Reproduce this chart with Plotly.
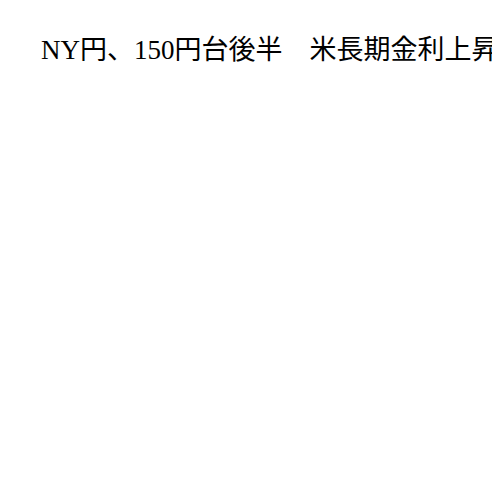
import plotly.graph_objects as go

# タイトルだけのチャート (データ系列なし)
title_text = "NY円、150円台後半　米長期金利上昇で"

fig = go.Figure()

fig.update_layout(
    width=500,
    height=500,
    paper_bgcolor="white",
    plot_bgcolor="white",
    margin=dict(l=0, r=0, t=0, b=0),
    title=dict(
        text=title_text,
        x=33 / 500,
        xref="container",
        xanchor="left",
        y=1 - 42 / 500,
        yref="container",
        yanchor="middle",
        font=dict(family="Liberation Serif, Noto Sans CJK JP", size=27, color="black"),
    ),
    xaxis=dict(visible=False),
    yaxis=dict(visible=False),
    showlegend=False,
)

fig.write_html("out.html")
